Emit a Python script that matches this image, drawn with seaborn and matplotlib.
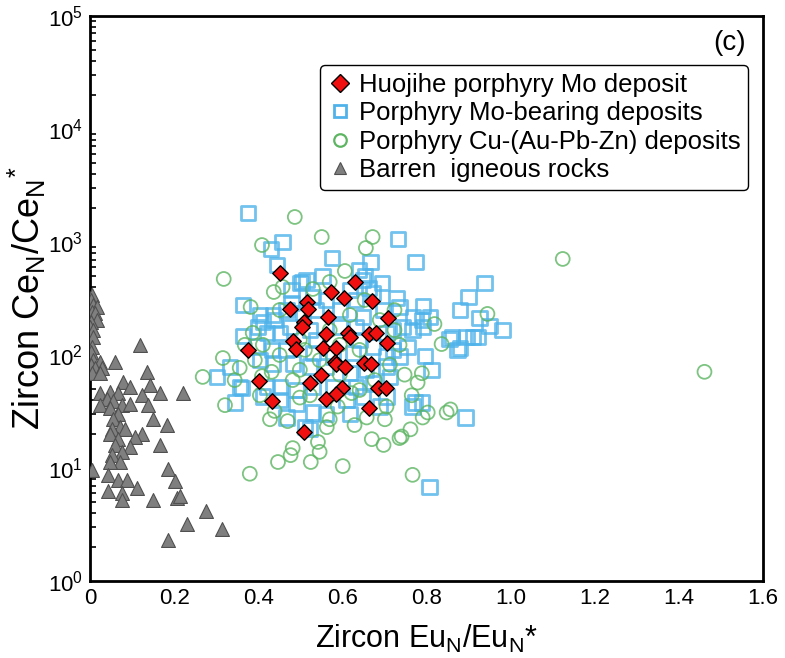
import matplotlib
matplotlib.use("Agg")
import matplotlib.pyplot as plt
from matplotlib.ticker import LogLocator, FixedLocator, FixedFormatter
from matplotlib.lines import Line2D
import seaborn as sns
import pandas as pd

# Huojihe porphyry Mo deposit
huojihe_x = [0.451, 0.629, 0.572, 0.604, 0.671, 0.515, 0.519, 0.475, 0.709, 0.566,
             0.508, 0.505, 0.560, 0.614, 0.618, 0.663, 0.681, 0.707, 0.483, 0.491,
             0.554, 0.584, 0.376, 0.582, 0.586, 0.606, 0.651, 0.669, 0.550, 0.524,
             0.401, 0.600, 0.586, 0.560, 0.685, 0.705, 0.432, 0.663, 0.509]
huojihe_y = [529, 445, 359, 318, 301, 296, 255, 254, 211, 216,
             197, 176, 153, 158, 145, 152, 156, 128, 133, 112,
             116, 116, 111, 87, 84, 79, 85, 84, 66, 57,
             59, 51, 45, 41, 51, 51, 39, 34, 21]

# Porphyry Mo-bearing deposits
mo_x = [0.375, 0.458, 0.430, 0.575, 0.444, 0.667, 0.732, 0.774, 0.639, 0.553,
        0.653, 0.504, 0.663, 0.694, 0.729, 0.363, 0.791, 0.879, 0.900, 0.938,
        0.926, 0.950, 0.981, 0.860, 0.879, 0.910, 0.922, 0.895, 0.855, 0.874,
        0.808, 0.789, 0.791, 0.767, 0.755, 0.796, 0.812, 0.772, 0.789, 0.767,
        0.893, 0.363, 0.302, 0.333, 0.361, 0.344, 0.530, 0.511, 0.404, 0.439,
        0.807, 0.499, 0.479, 0.530, 0.562, 0.618, 0.633, 0.673, 0.697, 0.736,
        0.744, 0.768, 0.720, 0.705, 0.649, 0.594, 0.538, 0.467, 0.435, 0.412,
        0.400, 0.420, 0.451, 0.475, 0.523, 0.538, 0.594, 0.633, 0.641, 0.673,
        0.720, 0.736, 0.705, 0.625, 0.578, 0.530, 0.467, 0.432, 0.396, 0.404,
        0.435, 0.483, 0.523, 0.562, 0.618, 0.657, 0.705, 0.713, 0.673, 0.633,
        0.578, 0.530, 0.491, 0.451, 0.420, 0.412, 0.451, 0.491, 0.610, 0.649,
        0.705, 0.618, 0.689, 0.562, 0.523, 0.467, 0.356, 0.515, 0.649, 0.479,
        0.507]
mo_y = [1807, 1000, 867, 721, 626, 665, 1063, 665, 565, 500,
        500, 443, 392, 434, 320, 277, 272, 250, 326, 434,
        212, 181, 166, 144, 115, 144, 144, 144, 139, 111,
        217, 204, 177, 166, 118, 98, 74, 38, 38, 35,
        28, 147, 64, 78, 51, 38, 31, 23, 226, 204,
        6.8, 431, 376, 328, 307, 376, 307, 352, 250, 268,
        178, 218, 166, 156, 218, 250, 250, 250, 226, 197,
        178, 156, 156, 178, 166, 136, 178, 178, 136, 119,
        111, 97, 97, 104, 97, 104, 111, 111, 119, 90,
        84, 84, 79, 79, 69, 74, 79, 64, 56, 52,
        52, 52, 49, 52, 52, 43, 40, 37, 40, 43,
        43, 30, 35, 30, 22, 28, 52, 461, 461, 287,
        234]

# Porphyry Cu-(Au-Pb-Zn) deposits
cu_x = [0.487, 0.551, 0.672, 0.656, 0.409, 0.318, 0.606, 0.458, 0.437, 0.530,
        0.382, 0.570, 0.724, 0.819, 0.945, 0.836, 0.789, 0.779, 0.316, 0.356,
        0.268, 0.321, 0.439, 0.470, 0.563, 0.542, 0.670, 0.698, 0.736, 0.762,
        0.803, 0.857, 0.848, 0.705, 0.658, 0.482, 0.387, 0.411, 0.409, 0.432,
        0.482, 0.499, 0.622, 0.589, 1.124, 1.461, 0.791, 0.741, 0.767, 0.380,
        0.601, 0.477, 0.525, 0.546, 0.447, 0.570, 0.618, 0.499, 0.451, 0.546,
        0.594, 0.641, 0.499, 0.594, 0.641, 0.677, 0.713, 0.523, 0.404, 0.428,
        0.570, 0.629, 0.701, 0.451, 0.653, 0.724, 0.689, 0.736, 0.748, 0.765,
        0.368, 0.344, 0.392, 0.511]
cu_y = [1665, 1107, 1107, 885, 940, 471, 554, 400, 361, 384,
        266, 443, 250, 188, 231, 125, 69, 57, 94, 77,
        64, 36, 32, 26, 23, 17, 18, 16, 18.4, 22,
        31, 33, 31, 35, 28, 15, 157, 123, 65, 71,
        60, 42, 46, 35, 708, 71, 28, 19, 8.7, 8.9,
        10.4, 13, 11.3, 13.9, 11.3, 166, 226, 136, 100, 90,
        123, 111, 74, 67, 49, 60, 82, 44, 44, 27,
        27, 24, 27, 250, 307, 166, 204, 123, 67, 44,
        123, 60, 90, 111]

# Barren igneous rocks
barren_x = [0.004, 0.002, 0.008, 0.016, 0.004, 0.012, 0.016, 0.002, 0.001, 0.008,
            0.008, 0.004, 0.002, 0.008, 0.024, 0.002, 0.012, 0.028, 0.004, 0.004,
            0.119, 0.059, 0.135, 0.024, 0.079, 0.143, 0.095, 0.123, 0.166, 0.222,
            0.024, 0.048, 0.067, 0.040, 0.055, 0.075, 0.095, 0.024, 0.138, 0.048,
            0.067, 0.055, 0.150, 0.182, 0.071, 0.052, 0.083, 0.123, 0.107, 0.048,
            0.067, 0.095, 0.166, 0.059, 0.075, 0.052, 0.071, 0.048, 0.186, 0.043,
            0.067, 0.087, 0.111, 0.202, 0.043, 0.075, 0.075, 0.150, 0.206, 0.214,
            0.277, 0.230, 0.313, 0.186]
barren_y = [340, 307, 277, 268, 242, 235, 204, 197, 178, 166,
            145, 118, 107, 90, 87, 82, 77, 77, 69, 9.6,
            123, 87, 71, 69, 58, 54, 52, 44, 46, 46,
            46, 47, 46, 41, 39, 36, 37, 36, 36, 34,
            30, 27, 27, 24, 23, 22, 22, 20, 19, 20,
            18, 15.4, 16, 16, 13.9, 13, 11.4, 11.4, 9.9, 8.7,
            7.8, 7.8, 6.6, 7.6, 6.2, 6.0, 5.2, 5.2, 5.4, 5.6,
            4.2, 3.2, 2.9, 2.3]

labels = ["Huojihe porphyry Mo deposit",
          "Porphyry Mo-bearing deposits",
          "Porphyry Cu-(Au-Pb-Zn) deposits",
          "Barren  igneous rocks"]

sns.set_style("white")
plt.rcParams["font.family"] = ["Liberation Sans", "DejaVu Sans"]
plt.rcParams["mathtext.default"] = "regular"
for key in ("text.color", "axes.labelcolor", "xtick.color", "ytick.color"):
    plt.rcParams[key] = "black"

blue = "#4FB3EA"
green = "#5DB562"
red = "#F01010"
grey = "#7F7F7F"

fig = plt.figure(figsize=(7.85, 6.58), dpi=100)
ax = fig.add_axes([0.1146, 0.1170, 0.8573, 0.8587])

mo_df = pd.DataFrame({"x": mo_x, "y": mo_y})
cu_df = pd.DataFrame({"x": cu_x, "y": cu_y})
hj_df = pd.DataFrame({"x": huojihe_x, "y": huojihe_y})
br_df = pd.DataFrame({"x": barren_x, "y": barren_y})

sns.scatterplot(data=mo_df, x="x", y="y", ax=ax, marker="s", s=105,
                facecolor="none", edgecolor=blue, linewidth=2.0, alpha=0.8, zorder=2)
sns.scatterplot(data=cu_df, x="x", y="y", ax=ax, marker="o", s=100,
                facecolor="none", edgecolor=green, linewidth=1.3, alpha=0.8, zorder=3)
sns.scatterplot(data=br_df, x="x", y="y", ax=ax, marker="^", s=100,
                color=grey, edgecolor="#505050", linewidth=0.8, zorder=3)
sns.scatterplot(data=hj_df, x="x", y="y", ax=ax, marker="D", s=62,
                color=red, edgecolor="black", linewidth=1.0, zorder=4)

ax.set_yscale("log")
ax.set_xlim(0, 1.6)
ax.set_ylim(1, 1e5)

ax.xaxis.set_major_locator(FixedLocator([0, 0.2, 0.4, 0.6, 0.8, 1.0, 1.2, 1.4, 1.6]))
ax.xaxis.set_major_formatter(FixedFormatter(["0", "0.2", "0.4", "0.6", "0.8", "1.0", "1.2", "1.4", "1.6"]))
ax.yaxis.set_major_locator(LogLocator(base=10, numticks=10))
ax.yaxis.set_minor_locator(LogLocator(base=10, subs=range(2, 10), numticks=100))

ax.tick_params(axis="both", which="major", direction="in", length=7, width=1.4,
               labelsize=16, top=False, right=False, pad=5)
ax.tick_params(axis="y", which="minor", direction="in", length=4.5, width=1.2,
               left=True, right=False)
ax.tick_params(axis="x", which="minor", bottom=False, top=False)

for sp in ax.spines.values():
    sp.set_linewidth(2.0)
    sp.set_color("black")

ax.set_xlabel(r"Zircon Eu$_{N}$/Eu$_{N}$*", fontsize=22, labelpad=10)
ax.set_ylabel(r"Zircon Ce$_{N}$/Ce$_{N}$$^{*}$", fontsize=26)
ax.yaxis.set_label_coords(-0.062, 0.5)

ax.text(0.951, 0.952, "(c)", transform=ax.transAxes, fontsize=20,
        ha="center", va="center")

handles = [
    Line2D([], [], linestyle="none", marker="D", markersize=9, markerfacecolor=red,
           markeredgecolor="black", markeredgewidth=1.0),
    Line2D([], [], linestyle="none", marker="s", markersize=9, markerfacecolor="none",
           markeredgecolor=blue, markeredgewidth=2.0),
    Line2D([], [], linestyle="none", marker="o", markersize=9, markerfacecolor="none",
           markeredgecolor=green, markeredgewidth=1.6),
    Line2D([], [], linestyle="none", marker="^", markersize=9, markerfacecolor=grey,
           markeredgecolor="#505050", markeredgewidth=0.8),
]
leg = ax.legend(handles, labels, loc="upper right", bbox_to_anchor=(0.978, 0.913),
                fontsize=18.5, frameon=True, fancybox=True, framealpha=1,
                edgecolor="black", handletextpad=0.3, handlelength=0.9,
                labelspacing=0.17, borderpad=0.3, borderaxespad=0)
leg.get_frame().set_linewidth(1.0)

fig.savefig("out.png", dpi=100)
